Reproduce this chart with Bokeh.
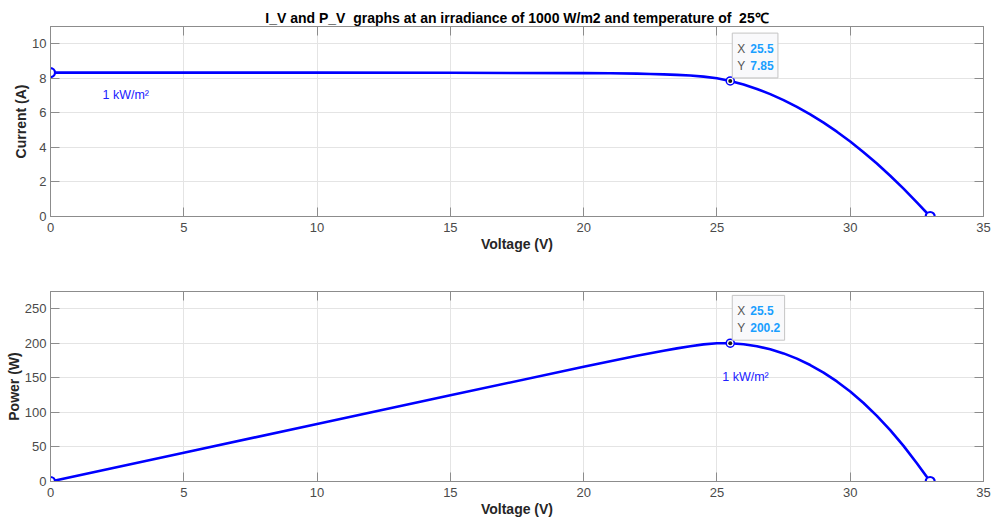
from bokeh.plotting import figure
from bokeh.layouts import column
from bokeh.models import Label, LinearAxis, Range1d, FixedTicker, ColumnDataSource
from bokeh.embed import file_html
from bokeh.resources import INLINE

# ---------------- data ----------------
voltage = [0, 5, 10, 15, 20, 21, 22, 22.5, 23, 23.5, 24, 24.5, 25, 25.5, 26, 26.5,
           27, 27.5, 28, 28.5, 29, 29.5, 30, 30.5, 31, 31.5, 32, 32.5, 33]
current = [8.33, 8.33, 8.33, 8.32, 8.30, 8.29, 8.27, 8.25, 8.23, 8.20, 8.16, 8.10,
           8.00, 7.85, 7.64, 7.385, 7.085, 6.74, 6.35, 5.915, 5.435, 4.91, 4.34,
           3.725, 3.065, 2.36, 1.61, 0.815, 0.0]
power = [0.0, 41.7, 83.3, 124.8, 166.0, 174.1, 181.9, 185.6, 189.3, 192.7, 195.8,
         198.5, 200.0, 200.2, 198.6, 195.7, 191.3, 185.4, 177.8, 168.6, 157.6,
         144.8, 130.2, 113.6, 95.0, 74.3, 51.5, 26.5, 0.0]

mpp_voltage = 25.5
mpp_current = 7.85
mpp_power = 200.2

x_ticks = [0, 5, 10, 15, 20, 25, 30, 35]
current_ticks = [0, 2, 4, 6, 8, 10]
power_ticks = [0, 50, 100, 150, 200, 250]

title_text = ("I_V and P_V\u00a0 graphs at an irradiance of 1000 W/m2 "
              "and temperature of\u00a0 25\u2103")
irradiance_text = "1 kW/m\u00b2"
x_label = "Voltage (V)"
current_label = "Current (A)"
power_label = "Power (W)"

# ---------------- styling ----------------
FONT = "Liberation Sans"
LINE_BLUE = "#0000ff"
AXIS_GRAY = "#8c8c8c"
TICK_TEXT = "#4a4a4a"
LABEL_TEXT = "#262626"
TIP_BLUE = "#1a9fff"
TIP_BG = "#f9f9fb"


def make_panel(y_values, y_ticks, y_max, y_label, tip_y_text, mpp_y,
               label_x, label_y, border_top, border_bottom, title=None):
    p = figure(frame_width=933, frame_height=190,
               min_border_left=50, min_border_right=9,
               min_border_top=border_top, min_border_bottom=border_bottom,
               x_range=Range1d(0, 35), y_range=Range1d(0, y_max),
               output_backend="svg", toolbar_location=None,
               background_fill_color="white", border_fill_color="white")
    if title:
        p.title.text = title
        p.title.align = "center"
        p.title.text_font = FONT
        p.title.text_font_size = "14px"
        p.title.text_font_style = "bold"
        p.title.text_color = "#000000"
        p.title.standoff = 2

    p.outline_line_color = AXIS_GRAY
    p.outline_line_width = 1

    for ax in (p.xaxis[0], p.yaxis[0]):
        ax.axis_line_color = AXIS_GRAY
        ax.major_tick_line_color = AXIS_GRAY
        ax.major_tick_in = 9
        ax.major_tick_out = 0
        ax.minor_tick_line_color = None
        ax.major_label_text_font = FONT
        ax.major_label_text_font_size = "13px"
        ax.major_label_text_color = TICK_TEXT
        ax.axis_label_text_font = FONT
        ax.axis_label_text_font_size = "14px"
        ax.axis_label_text_font_style = "bold"
        ax.axis_label_text_color = LABEL_TEXT

    p.xaxis[0].ticker = FixedTicker(ticks=x_ticks)
    p.yaxis[0].ticker = FixedTicker(ticks=y_ticks)
    p.xaxis[0].axis_label = x_label
    p.yaxis[0].axis_label = y_label
    p.xaxis[0].major_label_standoff = 6
    p.xaxis[0].axis_label_standoff = 1
    p.yaxis[0].major_label_standoff = 4
    p.yaxis[0].axis_label_standoff = 0

    # mirrored tick marks on top and right (no labels)
    top_ax = LinearAxis(ticker=FixedTicker(ticks=x_ticks),
                        major_label_overrides={t: "" for t in x_ticks})
    right_ax = LinearAxis(ticker=FixedTicker(ticks=y_ticks),
                          major_label_overrides={t: "" for t in y_ticks})
    for ax in (top_ax, right_ax):
        ax.axis_line_color = AXIS_GRAY
        ax.major_tick_line_color = AXIS_GRAY
        ax.major_tick_in = 9
        ax.major_tick_out = 0
        ax.minor_tick_line_color = None
        ax.major_label_standoff = 0
    p.add_layout(top_ax, "above")
    p.add_layout(right_ax, "right")

    p.xgrid.ticker = FixedTicker(ticks=x_ticks)
    p.ygrid.ticker = FixedTicker(ticks=y_ticks)
    p.grid.grid_line_color = "#e4e4e4"
    p.grid.grid_line_width = 1

    src = ColumnDataSource(dict(v=voltage, y=y_values))
    p.line("v", "y", source=src, line_color=LINE_BLUE, line_width=2.6,
           line_join="round")

    ends = ColumnDataSource(dict(v=[voltage[0], voltage[-1]],
                                 y=[y_values[0], y_values[-1]]))
    p.scatter("v", "y", source=ends, size=9, marker="circle",
              fill_color="white", line_color=LINE_BLUE, line_width=2.2)

    # data tip marker
    tip = ColumnDataSource(dict(v=[mpp_voltage], y=[mpp_y]))
    p.scatter("v", "y", source=tip, size=8, marker="circle",
              fill_color="white", line_color=LINE_BLUE, line_width=1.5)
    p.scatter("v", "y", source=tip, size=4, marker="circle",
              fill_color="#1a1a1a", line_color=None)

    # data tip box (box anchored at its bottom-left corner)
    x_val = f"{mpp_voltage:g}"
    box_text = f"X {x_val}\nY {tip_y_text}"
    common = dict(x=mpp_voltage, y=mpp_y, x_units="data", y_units="data",
                  text_font=FONT, text_font_size="12px",
                  text_align="left", text_baseline="bottom")
    p.add_layout(Label(text=box_text, x_offset=2, y_offset=3,
                       text_color=TIP_BG, text_font_style="bold",
                       background_fill_color=TIP_BG, background_fill_alpha=1.0,
                       border_line_color="#c4c4c4", border_line_width=1,
                       padding=dict(left=5, right=6, top=9, bottom=5),
                       **common))
    p.add_layout(Label(text="X\nY", x_offset=7, y_offset=8,
                       text_color="#555555", **common))
    p.add_layout(Label(text=f"{x_val}\n{tip_y_text}", x_offset=20, y_offset=8,
                       text_color=TIP_BLUE, text_font_style="bold", **common))

    # irradiance label
    p.add_layout(Label(x=label_x, y=label_y, text=irradiance_text,
                       text_font=FONT, text_font_size="12.5px",
                       text_color="#2020ff", text_baseline="middle",
                       text_align="left"))
    return p


p1 = make_panel(current, current_ticks, 11, current_label, f"{mpp_current:g}",
                mpp_current, 1.95, 7.05, 26, 54, title=title_text)
p2 = make_panel(power, power_ticks, 275, power_label, f"{mpp_power:g}",
                mpp_power, 25.2, 151, 21, 41)

layout = column(p1, p2, spacing=0)
open("out.html", "w").write(file_html(layout, INLINE))
